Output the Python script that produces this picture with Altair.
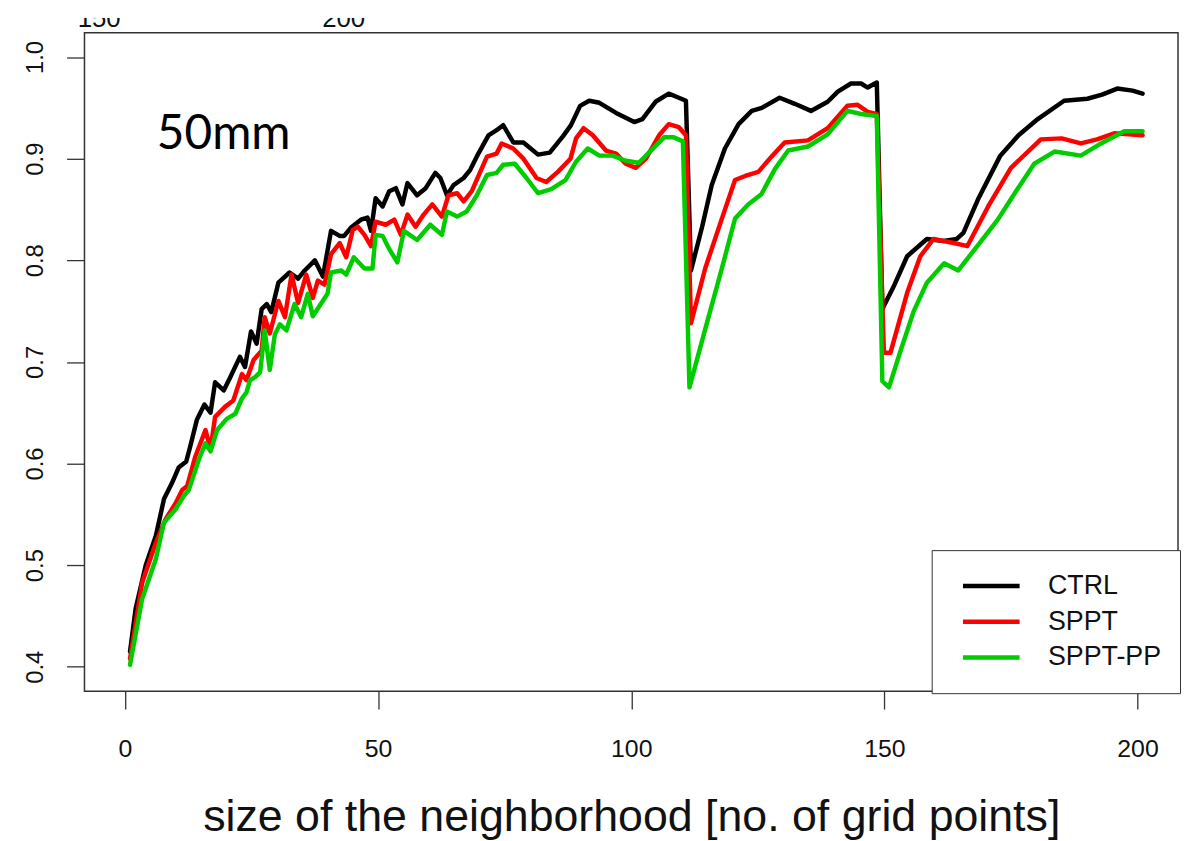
import altair as alt
import pandas as pd

# ---------------- data ----------------
series_names = ["CTRL", "SPPT", "SPPT-PP"]
series_colors = ["#000000", "#ff0000", "#00cc00"]

ctrl_x = [1, 2.1, 4.1, 6.1, 7.7, 9.3, 10.6, 12.1, 12.9, 14.2,
          15.7, 16.9, 17.8, 19.5, 20.8, 22.7, 23.7, 24.9, 26.0, 27.0,
          28.0, 28.9, 30.3, 32.5, 34.2, 35.5, 37.5, 39.1, 40.7, 42.4,
          43.3, 44.6, 46.6, 47.9, 48.6, 49.5, 50.9, 52.2, 53.5, 54.8,
          55.8, 57.7, 59.4, 61.3, 62.3, 63.6, 64.9, 66.9, 68.2, 69.8,
          71.8, 73.4, 74.7, 76.7, 78.7, 81.6, 83.9, 86.5, 88.1, 89.9,
          91.7, 93.7, 97.0, 100.6, 102.2, 104.8, 107.4, 109.4, 110.8, 111.8,
          114.0, 115.9, 118.5, 121.2, 123.8, 125.8, 129.3, 132.3, 135.5, 138.8,
          140.8, 143.4, 145.4, 146.7, 148.5, 149.6, 152.0, 154.5, 158.4, 161.7,
          164.3, 165.6, 168.5, 172.9, 176.5, 180.3, 185.5, 190.1, 193.0, 196.0,
          199.0, 201.0]
ctrl_y = [0.415, 0.457, 0.500, 0.529, 0.565, 0.581, 0.596, 0.602, 0.617, 0.643,
          0.658, 0.650, 0.680, 0.672, 0.685, 0.705, 0.695, 0.730, 0.718, 0.752,
          0.757, 0.749, 0.778, 0.788, 0.782, 0.790, 0.800, 0.784, 0.829, 0.824,
          0.824, 0.832, 0.840, 0.842, 0.829, 0.861, 0.853, 0.868, 0.871, 0.855,
          0.876, 0.864, 0.871, 0.886, 0.881, 0.864, 0.874, 0.881, 0.889, 0.905,
          0.923, 0.928, 0.933, 0.916, 0.916, 0.904, 0.906, 0.922, 0.933, 0.952,
          0.957, 0.955, 0.945, 0.936, 0.939, 0.956, 0.964, 0.960, 0.957, 0.790,
          0.833, 0.874, 0.910, 0.934, 0.947, 0.950, 0.960, 0.954, 0.947, 0.956,
          0.966, 0.974, 0.974, 0.970, 0.975, 0.752, 0.776, 0.804, 0.821, 0.819,
          0.821, 0.827, 0.860, 0.903, 0.923, 0.939, 0.957, 0.959, 0.963, 0.969,
          0.967, 0.964]

sppt_x = [1, 3.4, 6.1, 8.0, 10.0, 11.3, 12.3, 13.9, 15.9, 16.9,
          17.8, 19.8, 21.4, 23.1, 24.0, 25.4, 27.0, 27.6, 28.6, 30.3,
          31.6, 32.9, 34.2, 35.8, 37.1, 38.1, 39.4, 40.7, 42.4, 43.7,
          45.0, 46.0, 47.3, 48.6, 49.5, 51.5, 53.2, 54.5, 55.8, 57.4,
          59.0, 60.7, 62.6, 63.9, 65.6, 66.9, 68.5, 71.5, 73.4, 74.4,
          76.7, 78.7, 81.3, 83.2, 85.5, 88.0, 89.1, 90.6, 92.4, 95.0,
          97.0, 98.9, 100.9, 102.9, 105.5, 107.4, 109.4, 110.8, 111.8, 114.6,
          117.9, 120.5, 122.5, 125.1, 127.7, 130.3, 134.9, 138.8, 142.7, 144.7,
          146.7, 148.5, 149.9, 151.2, 154.5, 157.1, 159.7, 163.7, 166.4, 170.5,
          175.0, 180.9, 185.0, 188.8, 192.0, 195.4, 201.0]
sppt_y = [0.408, 0.483, 0.522, 0.545, 0.561, 0.574, 0.578, 0.607, 0.633, 0.614,
          0.646, 0.656, 0.662, 0.688, 0.682, 0.702, 0.711, 0.744, 0.728, 0.760,
          0.744, 0.786, 0.758, 0.786, 0.763, 0.780, 0.776, 0.806, 0.817, 0.803,
          0.830, 0.833, 0.825, 0.814, 0.838, 0.835, 0.840, 0.825, 0.845, 0.833,
          0.845, 0.855, 0.843, 0.864, 0.866, 0.858, 0.868, 0.902, 0.905, 0.915,
          0.910, 0.900, 0.881, 0.877, 0.887, 0.900, 0.920, 0.930, 0.923, 0.908,
          0.905, 0.895, 0.891, 0.900, 0.923, 0.934, 0.931, 0.923, 0.738, 0.792,
          0.841, 0.879, 0.883, 0.887, 0.902, 0.916, 0.918, 0.930, 0.952, 0.953,
          0.946, 0.944, 0.709, 0.709, 0.768, 0.804, 0.821, 0.817, 0.814, 0.853,
          0.891, 0.919, 0.920, 0.915, 0.919, 0.925, 0.923]

spptpp_x = [1, 3.4, 6.1, 7.7, 10.0, 11.6, 12.6, 14.6, 15.9, 16.9,
            18.2, 20.1, 21.8, 23.1, 24.0, 24.7, 25.7, 26.7, 27.6, 28.6,
            29.6, 30.6, 31.9, 33.5, 34.8, 36.1, 37.1, 40.0, 40.7, 42.7,
            43.7, 45.2, 47.3, 48.9, 49.5, 50.9, 52.2, 53.8, 55.1, 57.7,
            60.3, 62.6, 63.6, 65.6, 67.5, 69.5, 71.5, 73.4, 74.7, 77.0,
            79.3, 81.6, 84.2, 87.0, 89.1, 91.4, 93.7, 96.3, 98.9, 101.5,
            103.5, 106.5, 108.4, 110.2, 111.5, 114.6, 117.9, 120.5, 123.1, 125.7,
            128.4, 131.0, 134.9, 138.8, 142.7, 145.4, 148.5, 149.6, 150.9, 153.2,
            155.8, 158.4, 161.8, 164.6, 168.5, 172.4, 176.0, 179.6, 183.6, 188.8,
            192.8, 197.4, 201.0]
spptpp_y = [0.402, 0.467, 0.506, 0.542, 0.555, 0.568, 0.574, 0.604, 0.620, 0.612,
            0.633, 0.644, 0.649, 0.664, 0.670, 0.682, 0.685, 0.690, 0.731, 0.692,
            0.727, 0.737, 0.731, 0.757, 0.744, 0.767, 0.745, 0.767, 0.788, 0.790,
            0.786, 0.803, 0.792, 0.792, 0.825, 0.824, 0.811, 0.798, 0.829, 0.820,
            0.835, 0.825, 0.848, 0.843, 0.848, 0.864, 0.884, 0.886, 0.894, 0.895,
            0.881, 0.866, 0.870, 0.879, 0.897, 0.910, 0.903, 0.903, 0.898, 0.896,
            0.906, 0.921, 0.921, 0.917, 0.675, 0.732, 0.792, 0.841, 0.855, 0.865,
            0.890, 0.908, 0.912, 0.924, 0.947, 0.944, 0.942, 0.681, 0.675, 0.711,
            0.750, 0.778, 0.797, 0.790, 0.815, 0.840, 0.868, 0.895, 0.907, 0.903,
            0.915, 0.927, 0.927]

x_ticks = [0, 50, 100, 150, 200]
y_ticks = [0.4, 0.5, 0.6, 0.7, 0.8, 0.9, 1.0]
panel_label = "50mm"
x_title = "size of the neighborhood [no. of grid points]"
# fragments of the upper panel's axis labels, cut off by the image edge
top_labels = ["150", "200"]
top_label_x = [-5.1, 43.2]

# ---------------- build tables ----------------
def frame(name, xs, ys):
    return pd.DataFrame({"x": xs, "y": ys, "series": name})

frames = [frame(series_names[0], ctrl_x, ctrl_y),
          frame(series_names[1], sppt_x, sppt_y),
          frame(series_names[2], spptpp_x, spptpp_y)]

FONT = "Liberation Sans"
W, H = 1101, 663

xscale = alt.Scale(domain=[-8, 208], nice=False, zero=False)
yscale = alt.Scale(domain=[0.376, 1.024], nice=False, zero=False)
cscale = alt.Scale(domain=series_names, range=series_colors)

xaxis = alt.Axis(values=x_ticks, grid=False, domain=False, tickSize=18, tickWidth=1.3,
                 tickColor="#333333", labelFont=FONT, labelFontSize=25, labelColor="#111111",
                 labelPadding=28, title=x_title, titleFont=FONT, titleFontSize=45,
                 titleFontWeight="normal", titleColor="#111111", titleY=140,
                 titleBaseline="alphabetic")
yaxis = alt.Axis(values=y_ticks, grid=False, domain=False, tickSize=18, tickWidth=1.3,
                 tickColor="#333333", labelFont=FONT, labelFontSize=24, labelColor="#111111",
                 labelAngle=270, labelAlign="center", labelBaseline="alphabetic",
                 labelPadding=24, format=".1f", title=None)

legend = alt.Legend(title=None, orient="none", legendX=853, legendY=521,
                    direction="vertical", symbolType="stroke", symbolSize=3249,
                    symbolStrokeWidth=4.5, clipHeight=36, rowPadding=0,
                    labelFont=FONT, labelFontSize=27, labelColor="#111111",
                    labelOffset=26, padding=18, symbolOffset=11,
                    strokeColor="#333333", fillColor="white")

X = alt.X("x:Q", scale=xscale, axis=xaxis)
Y = alt.Y("y:Q", scale=yscale, axis=yaxis)

layers = []
for df in frames:
    layers.append(
        alt.Chart(df).mark_line(strokeWidth=4.5, strokeJoin="round", strokeCap="round").encode(
            x=X, y=Y,
            color=alt.Color("series:N", scale=cscale, legend=legend),
            order=alt.Order("x:Q"),
        )
    )

label_df = pd.DataFrame({"x": [6.3], "y": [0.91], "t": [panel_label]})
label = alt.Chart(label_df).mark_text(align="left", baseline="alphabetic", font="Lato",
                                      fontSize=48, color="#000000").encode(
    x=X, y=Y, text="t:N")

top_df = pd.DataFrame({"x": top_label_x, "y": [1.0299, 1.0299], "t": top_labels})
top = alt.Chart(top_df).mark_text(align="center", baseline="alphabetic", font=FONT,
                                  fontSize=26, color="#111111").encode(
    x=X, y=Y, text="t:N")
cover = alt.Chart(top_df).mark_rect(color="white").encode(
    x=alt.value(-85), x2=alt.value(500), y=alt.value(-40), y2=alt.value(-15))

chart = alt.layer(*layers, label, top, cover).properties(
    width=W, height=H,
    background="white",
    autosize=alt.AutoSizeParams(type="none"),
    padding={"left": 77, "top": 22, "right": 3, "bottom": 148},
).configure_view(stroke="#333333", strokeWidth=1.5)

chart.save("out.html", embed_options={"renderer": "svg", "actions": False})
